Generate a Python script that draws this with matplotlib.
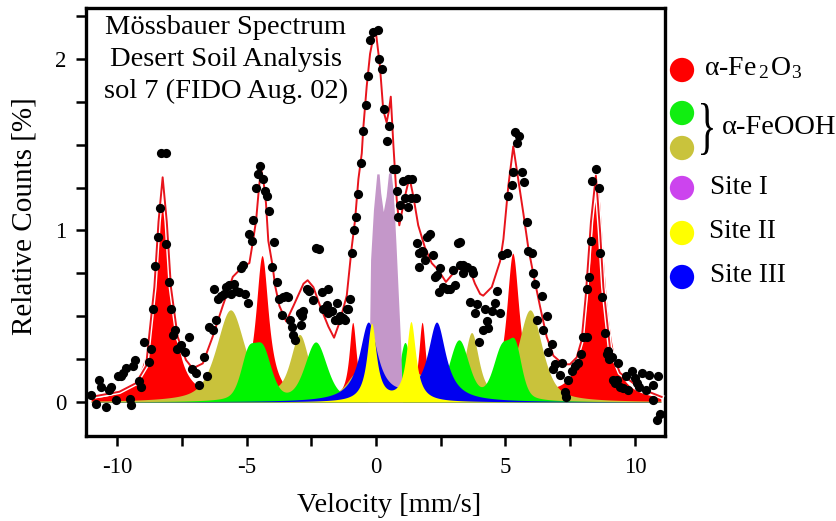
import numpy as np
import matplotlib
matplotlib.use('Agg')
import matplotlib.pyplot as plt
import matplotlib.patheffects as pe
from matplotlib.ticker import FixedLocator
from matplotlib.textpath import TextPath
from matplotlib.patches import PathPatch
from matplotlib.font_manager import FontProperties
from matplotlib.transforms import Affine2D

plt.rcParams['font.family'] = ['Liberation Serif', 'DejaVu Serif']
plt.rcParams['mathtext.fontset'] = 'custom'
plt.rcParams['mathtext.rm'] = 'Liberation Serif'
plt.rcParams['mathtext.it'] = 'Liberation Serif:italic'
plt.rcParams['axes.unicode_minus'] = False

# ---------------- measured data points ----------------
data_v = [-11.00, -10.81, -10.62, -10.68, -10.42, -10.30, -10.23, -10.04, -9.97, -9.85,
          -9.78, -9.65, -9.52, -9.46, -9.39, -9.29, -9.14, -9.07, -8.95, -8.75,
          -8.69, -8.60, -8.52, -8.43, -8.34, -8.30, -8.11, -8.11, -8.00, -7.92,
          -7.83, -7.75, -7.70, -7.53, -7.36, -7.21, -7.10, -6.95, -6.82, -6.63,
          -6.54, -6.44, -6.31, -6.24, -6.18, -6.11, -5.98, -5.86, -5.79, -5.69,
          -5.60, -5.47, -5.41, -5.30, -5.21, -5.15, -5.05, -4.96, -4.89, -4.80,
          -4.74, -4.63, -4.54, -4.48, -4.35, -4.29, -4.22, -4.12, -4.02, -3.94,
          -3.83, -3.73, -3.64, -3.60, -3.47, -3.38, -3.32, -3.26, -3.19, -3.13,
          -2.93, -2.87, -2.91, -2.81, -2.68, -2.57, -2.44, -2.32, -2.19, -2.10,
          -2.03, -1.90, -1.84, -1.84, -1.71, -1.58, -1.52, -1.42, -1.39, -1.26,
          -1.20, -1.13, -1.07, -1.00, -0.94, -0.85, -0.77, -0.68, -0.59, -0.49,
          -0.40, -0.30, -0.23, -0.13, 0.07, 0.13, 0.22, 0.32, 0.44, 0.51,
          0.64, 0.77, 0.80, 0.86, 0.93, 1.05, 1.12, 1.25, 1.25, 1.34,
          1.38, 1.54, 1.59, 1.67, 1.67, 1.76, 1.83, 1.89, 1.96, 2.08,
          2.19, 2.28, 2.34, 2.45, 2.47, 2.60, 2.73, 2.86, 2.98, 3.05,
          3.18, 3.24, 3.24, 3.37, 3.37, 3.50, 3.63, 3.69, 3.76, 3.82,
          3.89, 3.99, 4.12, 4.21, 4.27, 4.34, 4.47, 4.59, 4.68, 4.79,
          4.85, 5.05, 5.11, 5.24, 5.30, 5.37, 5.46, 5.53, 5.62, 5.71,
          5.82, 5.88, 6.01, 6.07, 6.14, 6.20, 6.40, 6.46, 6.59, 6.65,
          6.78, 6.85, 6.91, 7.10, 7.20, 7.30, 7.34, 7.43, 7.56, 7.68,
          7.81, 7.92, 8.00, 8.13, 8.13, 8.24, 8.30, 8.35, 8.49, 8.61,
          8.65, 8.71, 8.84, 8.91, 8.97, 9.01, 9.10, 9.16, 9.23, 9.29,
          9.36, 9.42, 9.52, 9.65, 9.74, 9.87, 10.00, 10.07, 10.17, 10.26,
          10.42, 10.55, 10.68, 10.71, 10.90, 10.84, 10.97]
data_c = [0.04, -0.01, 0.09, 0.13, -0.03, 0.07, 0.09, 0.01, 0.15, 0.15,
          0.17, 0.20, 0.02, -0.02, 0.21, 0.245, 0.12, 0.09, 0.35, 0.235,
          0.31, 0.54, 0.795, 0.96, 1.13, 1.45, 1.45, 0.92, 0.70, 0.54,
          0.39, 0.42, 0.31, 0.33, 0.29, 0.38, 0.19, 0.17, 0.10, 0.265,
          0.15, 0.44, 0.42, 0.66, 0.48, 0.60, 0.62, 0.63, 0.67, 0.68,
          0.63, 0.69, 0.65, 0.64, 0.78, 0.80, 0.63, 0.58, 0.98, 0.94,
          1.06, 1.25, 1.33, 1.376, 1.30, 1.23, 1.20, 1.115, 0.79, 0.935,
          0.70, 0.60, 0.51, 0.61, 0.62, 0.61, 0.48, 0.44, 0.39, 0.36,
          0.52, 0.50, 0.45, 0.53, 0.66, 0.65, 0.595, 0.90, 0.89, 0.64,
          0.54, 0.565, 0.66, 0.52, 0.53, 0.48, 0.575, 0.48, 0.50, 0.49,
          0.48, 0.54, 0.54, 0.60, 0.87, 1.00, 1.08, 1.21, 1.395, 1.58,
          1.73, 1.90, 2.11, 2.16, 2.17, 2.00, 1.94, 1.71, 1.52, 1.61,
          1.36, 1.36, 1.23, 1.08, 1.15, 1.29, 1.19, 1.30, 1.135, 1.19,
          1.30, 1.19, 0.925, 0.87, 0.79, 0.88, 0.875, 0.83, 0.96, 0.98,
          0.86, 0.73, 0.74, 0.64, 0.78, 0.67, 0.66, 0.66, 0.77, 0.68,
          0.925, 0.935, 0.80, 0.80, 0.75, 0.79, 0.585, 0.77, 0.75, 0.52,
          0.57, 0.35, 0.42, 0.54, 0.47, 0.43, 0.53, 0.575, 0.65, 0.52,
          0.86, 0.87, 1.20, 1.265, 1.34, 1.576, 1.51, 1.55, 1.34, 1.28,
          1.05, 0.88, 0.87, 0.75, 0.69, 0.48, 0.62, 0.42, 0.50, 0.29,
          0.34, 0.19, 0.22, 0.16, 0.225, 0.06, 0.03, 0.13, 0.18, 0.21,
          0.225, 0.28, 0.38, 0.38, 0.66, 0.73, 0.94, 1.29, 1.357, 1.245,
          0.87, 0.61, 0.40, 0.28, 0.30, 0.25, 0.26, 0.13, 0.11, 0.13,
          0.23, 0.09, 0.08, 0.15, 0.07, 0.18, 0.14, 0.11, 0.09, 0.17,
          0.07, 0.16, 0.10, 0.01, 0.15, -0.105, -0.07]

# ---------------- fitted envelope (red line) ----------------
fit_v = [-11.0, -9.91, -9.27, -8.88, -8.75, -8.56, -8.40, -8.24, -8.08, -7.92,
         -7.66, -7.34, -7.08, -6.69, -6.31, -5.92, -5.53, -5.14, -4.89, -4.75,
         -4.63, -4.52, -4.44, -4.34, -4.25, -4.16, -3.99, -3.90, -3.73, -3.47,
         -3.19, -2.80, -2.64, -2.42, -2.16, -1.84, -1.62, -1.42, -1.13, -0.94,
         -0.81, -0.68, -0.55, -0.49, -0.36, -0.23, -0.10, 0.0, 0.15, 0.28,
         0.41, 0.50, 0.57, 0.67, 0.80, 0.90, 1.12, 1.29, 1.44, 1.63,
         1.89, 2.15, 2.40, 2.70, 2.98, 3.37, 3.50, 3.60, 3.82, 4.02,
         4.14, 4.47, 4.79, 4.92, 5.11, 5.30, 5.50, 5.69, 5.88, 6.07,
         6.33, 6.59, 6.85, 7.23, 7.49, 7.75, 7.94, 8.10, 8.30, 8.49,
         8.65, 8.78, 9.03, 9.42, 10.19, 11.03]
fit_c = [0.03, 0.06, 0.11, 0.21, 0.40, 0.67, 1.05, 1.31, 1.05, 0.67,
         0.38, 0.245, 0.196, 0.225, 0.38, 0.56, 0.73, 0.79, 0.81, 0.94,
         1.06, 1.25, 1.36, 1.28, 1.16, 0.94, 0.79, 0.68, 0.56, 0.47,
         0.56, 0.69, 0.71, 0.67, 0.56, 0.44, 0.375, 0.46, 0.62, 0.90,
         1.06, 1.30, 1.45, 1.60, 1.84, 2.03, 2.13, 2.15, 1.96, 1.70,
         1.63, 1.70, 1.78, 1.50, 1.18, 1.03, 1.20, 1.31, 1.20, 1.03,
         0.90, 0.81, 0.77, 0.70, 0.75, 0.80, 0.80, 0.78, 0.69, 0.63,
         0.62, 0.67, 0.82, 0.95, 1.26, 1.49, 1.29, 1.10, 0.90, 0.75,
         0.56, 0.38, 0.27, 0.22, 0.22, 0.26, 0.36, 0.62, 1.05, 1.32,
         1.00, 0.67, 0.32, 0.17, 0.08, 0.03]

# ---------------- subspectra ----------------
# alpha-Fe2O3 sextet (Lorentzian lines: centre, height, half width)
hem_center = [-8.23, -4.40, -0.90, 1.78, 5.28, 8.52]
hem_height = [1.28, 0.84, 0.45, 0.45, 0.85, 1.28]
hem_width = [0.35, 0.30, 0.17, 0.16, 0.30, 0.35]

# alpha-FeOOH, second component (olive)
goe2_center = [-5.62, -2.95, -0.75, 1.60, 3.69, 5.95]
goe2_height = [0.53, 0.37, 0.15, 0.15, 0.38, 0.53]
goe2_width = [0.65, 0.42, 0.45, 0.45, 0.32, 0.55]

# alpha-FeOOH, first component (green)
goe1_center = [-4.95, -4.38, -2.33, -0.25, 1.12, 3.20, 4.85, 5.38]
goe1_height = [0.24, 0.28, 0.34, 0.30, 0.33, 0.35, 0.29, 0.26]
goe1_width = [0.35, 0.40, 0.50, 0.30, 0.25, 0.45, 0.40, 0.30]

# Site I outline
site1_v = [-0.32, -0.27, -0.24, -0.21, -0.10, 0.03, 0.12, 0.18, 0.28, 0.39,
           0.48, 0.57, 0.67, 0.77, 0.86, 0.95, 0.99, 1.03]
site1_c = [0.0, 0.20, 0.50, 0.83, 1.12, 1.33, 1.33, 1.22, 1.11, 1.20,
           1.33, 1.35, 1.22, 0.925, 0.63, 0.34, 0.15, 0.0]

# Site II doublet
site2_center = [-0.17, 1.35]
site2_height = [0.45, 0.46]
site2_width = [0.22, 0.22]

# Site III doublet
site3_center = [-0.30, 2.34]
site3_height = [0.455, 0.455]
site3_width = [0.42, 0.42]

x_ticks = [-10, -5, 0, 5, 10]
y_ticks = [0, 1, 2]

title_lines = ['Mössbauer Spectrum', 'Desert Soil Analysis', 'sol 7 (FIDO Aug. 02)']
legend_labels = ['α-Fe$_{\\,2\\,}$O$_3$', 'α-FeOOH', 'Site I', 'Site II', 'Site III']


def lorentz(x, c, h, w):
    out = np.zeros_like(x)
    for ci, hi, wi in zip(c, h, w):
        out += hi / (1 + ((x - ci) / wi) ** 2)
    return out


def pvoigt(x, c, h, w, eta=0.45):
    out = np.zeros_like(x)
    for ci, hi, wi in zip(c, h, w):
        r2 = ((x - ci) / wi) ** 2
        out += hi * (eta / (1 + r2) + (1 - eta) * np.exp(-np.log(2) * r2))
    return out


xs = np.linspace(-11.0, 11.0, 2200)

fig = plt.figure(figsize=(8.37, 5.21), dpi=100)
ax = fig.add_axes([86 / 837, 1 - 436 / 521, (665 - 86) / 837, (436 - 8) / 521])

RED = '#ff0000'
OLIVE = '#c9c23b'
GREEN = '#00f500'
PURPLE_FILL = '#c497c9'
YELLOW = '#ffff00'
BLUE = '#0000f0'

ax.fill_between(xs, 0, lorentz(xs, hem_center, hem_height, hem_width), color=RED, lw=0)
ax.fill_between(xs, 0, pvoigt(xs, goe2_center, goe2_height, goe2_width, 0.6), color=OLIVE, lw=0)
ax.fill_between(xs, 0, pvoigt(xs, goe1_center, goe1_height, goe1_width, 0.4), color=GREEN, lw=0)
ax.fill_between(site1_v, 0, site1_c, color=PURPLE_FILL, lw=0)
ax.fill_between(xs, 0, lorentz(xs, site3_center, site3_height, site3_width), color=BLUE, lw=0)
ax.fill_between(xs, 0, lorentz(xs, site2_center, site2_height, site2_width), color=YELLOW, lw=0)

ax.plot(fit_v, fit_c, color='#e8141c', lw=1.4, zorder=4,
        path_effects=[pe.Stroke(linewidth=3.4, foreground='white'), pe.Normal()])
ax.scatter(data_v, data_c, s=44, color='black', zorder=5, lw=0)

ax.set_xlim(-11.2, 11.16)
ax.set_ylim(-0.198, 2.297)
ax.xaxis.set_major_locator(FixedLocator(x_ticks))
ax.xaxis.set_minor_locator(FixedLocator([-7.5, -2.5, 2.5, 7.5]))
ax.yaxis.set_major_locator(FixedLocator(y_ticks))
ax.yaxis.set_minor_locator(FixedLocator([0.25, 0.5, 0.75, 1.25, 1.5, 1.75, 2.25]))
ax.set_xticklabels([str(t) for t in x_ticks], fontsize=16.5)
ax.set_yticklabels([str(t) for t in y_ticks], fontsize=16.5)
ax.tick_params(which='both', direction='out', length=7, width=1.8,
               top=False, right=False)
ax.tick_params(axis='x', pad=8)
ax.tick_params(axis='y', pad=7)
for s in ax.spines.values():
    s.set_linewidth(2.4)

fig.text(389 / 837, 1 - 505 / 521, 'Velocity [mm/s]', ha='center', va='center', fontsize=20.5)
fig.text(25 / 837, 1 - 216 / 521, 'Relative Counts [%]', ha='center', va='center',
         fontsize=21, rotation=90)

# overlay in pixel coordinates for title block and legend
ov = fig.add_axes([0, 0, 1, 1], facecolor='none')
ov.set_xlim(0, 837)
ov.set_ylim(521, 0)
ov.axis('off')

for line, yy in zip(title_lines, [28, 60, 91]):
    ov.text(226, yy, line, ha='center', va='center', fontsize=20.5)

leg_colors = ['#ff0000', '#11ee11', '#c9c33c', '#cc44ee', '#ffff00', '#0000ff']
leg_y = [70, 113, 148, 188, 233, 277]
ov.scatter([682] * 6, leg_y, s=17.5 ** 2, c=leg_colors, lw=0)
ov.text(704, 68, legend_labels[0], ha='left', va='center', fontsize=20)
ov.text(722, 128, legend_labels[1], ha='left', va='center', fontsize=20.5)
ov.text(710, 187, legend_labels[2], ha='left', va='center', fontsize=19.5)
ov.text(709, 232, legend_labels[3], ha='left', va='center', fontsize=19.5)
ov.text(710, 276, legend_labels[4], ha='left', va='center', fontsize=19.5)

tp = TextPath((0, 0), '}', size=50, prop=FontProperties(family='Liberation Serif'))
ext = tp.get_extents()
bx0, bx1, by0, by1 = 701, 713, 103, 155
sx = (bx1 - bx0) / ext.width
sy = (by1 - by0) / ext.height
tr = Affine2D().translate(-ext.x0, -ext.y1).scale(sx, -sy).translate(bx0, by0) + ov.transData
ov.add_patch(PathPatch(tp, transform=tr, color='black', lw=0))

fig.savefig('out.png', dpi=100)
